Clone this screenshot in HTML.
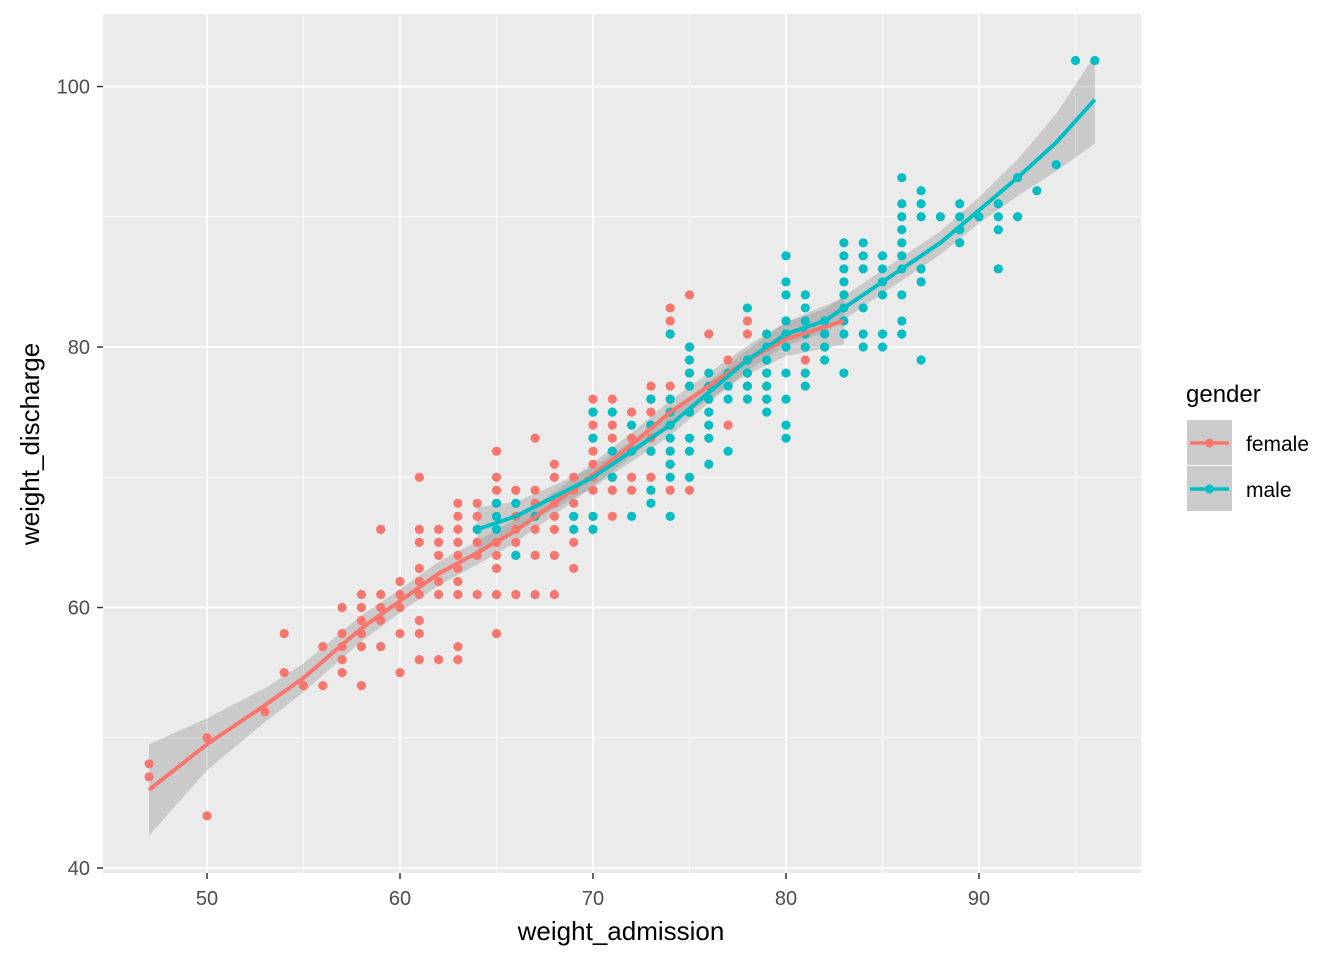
<!DOCTYPE html>
<html><head><meta charset="utf-8"><style>
body{margin:0;background:#fff;}
svg text{font-family:"Liberation Sans",Arial,sans-serif;}
</style></head><body>
<svg id="chart" width="1344" height="960" xmlns="http://www.w3.org/2000/svg">
<rect x="103" y="14" width="1038" height="859" fill="#EBEBEB"/>
<g id="grid"></g><g id="ribbons"></g><g id="points"></g><g id="lines"></g><g id="axes"></g>
<text x="621" y="940" font-size="26" text-anchor="middle" fill="#000">weight_admission</text>
<text transform="translate(39,444) rotate(-90)" font-size="26" text-anchor="middle" fill="#000">weight_discharge</text>
<g>
<text x="1186" y="402" font-size="24" fill="#000">gender</text>
<g>
<rect x="1187" y="420" width="45" height="45" fill="#CBCBCB"/>
<line x1="1190" y1="443" x2="1229" y2="443" stroke="#F8766D" stroke-width="3.5"/>
<circle cx="1209.5" cy="443" r="4.5" fill="#F8766D"/>
<text x="1246" y="451" font-size="21" fill="#000">female</text></g>
<g>
<rect x="1187" y="466" width="45" height="45" fill="#CBCBCB"/>
<line x1="1190" y1="489" x2="1229" y2="489" stroke="#00BFC4" stroke-width="3.5"/>
<circle cx="1209.5" cy="489" r="4.5" fill="#00BFC4"/>
<text x="1246" y="497" font-size="21" fill="#000">male</text></g>
</g>
</svg>
<script>
const xTicks=[50,60,70,80,90];
const yTicks=[40,60,80,100];
const femaleCols=[[47,[48,47]],[50,[50,44]],[53,[52]],[54,[58,55]],[55,[54]],[56,[57,54]],[57,[60,58,57,56,55]],[58,[61,60,59,58,57,54]],[59,[66,61,60,59,57]],[60,[62,61,60,58,55]],[61,[70,66,65,63,62,61,59,58,56]],[62,[66,65,64,62,61,56]],[63,[68,67,66,65,64,63,62,61,57,56]],[64,[68,67,66,65,64,61]],[65,[72,70,69,68,67,66,65,64,63,61,58]],[66,[69,68,67,66,65,64,61]],[67,[73,69,68,67,66,64,61]],[68,[71,70,68,67,66,64,61]],[69,[70,69,68,67,65,63]],[70,[76,75,74,73,72,71,70,69,67]],[71,[76,74,73,72,70,69,67]],[72,[75,73,70,69]],[73,[77,76,75,74,73,72,70]],[74,[83,82,81,77,76,75,74,71,69]],[75,[84,80,78,77,75,69]],[76,[81,76]],[77,[79,74]],[78,[82,81,79,78,77]],[79,[79,78,77,76]],[80,[82,81,80]],[81,[79]],[82,[81,80]]];
const maleCols=[[64,[66]],[65,[68,67,66]],[66,[68,64]],[67,[67]],[69,[67,66]],[70,[75,73,67,66]],[71,[75,72,70]],[72,[74,72,67]],[73,[76,74,72,69,68]],[74,[81,76,75,74,73,72,71,70,67]],[75,[80,79,78,77,75,73,72,70]],[76,[78,77,76,75,74,73,71]],[77,[78,77,76,72]],[78,[83,79,78,77,76]],[79,[81,80,79,78,77,76,75]],[80,[87,85,84,82,81,80,78,76,74,73]],[81,[84,83,82,81,80,78,77]],[82,[82,81,80,79]],[83,[88,87,86,85,84,83,82,81,78]],[84,[88,87,86,83,81,80]],[85,[87,86,85,84,81,80]],[86,[93,91,90,89,88,87,86,84,82,81]],[87,[92,91,90,86,85,79]],[88,[90]],[89,[91,90,89,88]],[90,[90]],[91,[91,90,89,86]],[92,[93,90]],[93,[92]],[94,[94]],[95,[102]],[96,[102]]];
const femaleFitX=[47,50,53,55,58,60,62,64,66,68,70,72,74,76,78,80,83];
const femaleFitY=[46,49.5,52.5,54.6,58.4,60.5,62.6,64.2,65.9,68,70.2,72.5,75,77,79,80.6,82];
const femaleSE=[3.5,2,1.3,1.1,1,0.9,0.9,0.9,0.9,0.9,0.9,0.9,0.9,1,1.1,1.3,1.8];
const maleFitX=[64,66,68,70,72,74,76,78,80,82,84,86,88,90,92,94,96];
const maleFitY=[66,67,68.5,70,72,74,76.5,79,81,82,84,86,88,90.5,93,95.7,99];
const maleSE=[1.7,1.1,0.9,0.8,0.8,0.8,0.8,0.8,0.9,0.9,0.9,0.9,0.9,1,1.4,2.2,3.4];
const X=v=>207+(v-50)*19.3;
const Y=v=>868-(v-40)*13.025;
const NS='http://www.w3.org/2000/svg';
function mk(tag,attrs,parent){const e=document.createElementNS(NS,tag);for(const k in attrs)e.setAttribute(k,attrs[k]);document.getElementById(parent).appendChild(e);return e;}
[55,65,75,85,95].forEach(v=>{const l=mk('line',{x1:X(v),x2:X(v),y1:14,y2:873,stroke:'#fff','stroke-width':1},'grid');

});
[50,70,90].forEach(v=>{const l=mk('line',{x1:103,x2:1141,y1:Y(v),y2:Y(v),stroke:'#fff','stroke-width':1},'grid');

});
xTicks.forEach(v=>{const l=mk('line',{x1:X(v),x2:X(v),y1:14,y2:873,stroke:'#fff','stroke-width':2},'grid');


const t=mk('line',{x1:X(v),x2:X(v),y1:873,y2:879,stroke:'#333','stroke-width':1.5},'axes');


const tx=mk('text',{x:X(v),y:905,'font-size':20,'text-anchor':'middle',fill:'#4D4D4D'},'axes');tx.textContent=v;

});
yTicks.forEach(v=>{const l=mk('line',{x1:103,x2:1141,y1:Y(v),y2:Y(v),stroke:'#fff','stroke-width':2},'grid');


const t=mk('line',{x1:97,x2:103,y1:Y(v),y2:Y(v),stroke:'#333','stroke-width':1.5},'axes');


const tx=mk('text',{x:90,y:Y(v)+7,'font-size':20,'text-anchor':'end',fill:'#4D4D4D'},'axes');tx.textContent=v;

});
function pts(cols,color,name){cols.forEach(c=>c[1].forEach(y=>{const p=mk('circle',{cx:X(c[0]),cy:Y(y),r:4.6,fill:color},'points');

}));}
pts(femaleCols,'#F8766D','female-point');
pts(maleCols,'#00BFC4','male-point');
function fit(xs,ys,se,color,name){
let up=xs.map((x,i)=>X(x)+','+Y(ys[i]+se[i])),lo=xs.map((x,i)=>X(x)+','+Y(ys[i]-se[i])).reverse();
const r=mk('polygon',{points:up.concat(lo).join(' '),fill:'#999','fill-opacity':0.4},'ribbons');


const l=mk('polyline',{points:xs.map((x,i)=>X(x)+','+Y(ys[i])).join(' '),fill:'none',stroke:color,'stroke-width':4,'stroke-linejoin':'round'},'lines');

}
fit(femaleFitX,femaleFitY,femaleSE,'#F8766D','female');
fit(maleFitX,maleFitY,maleSE,'#00BFC4','male');
</script>
</body></html>
